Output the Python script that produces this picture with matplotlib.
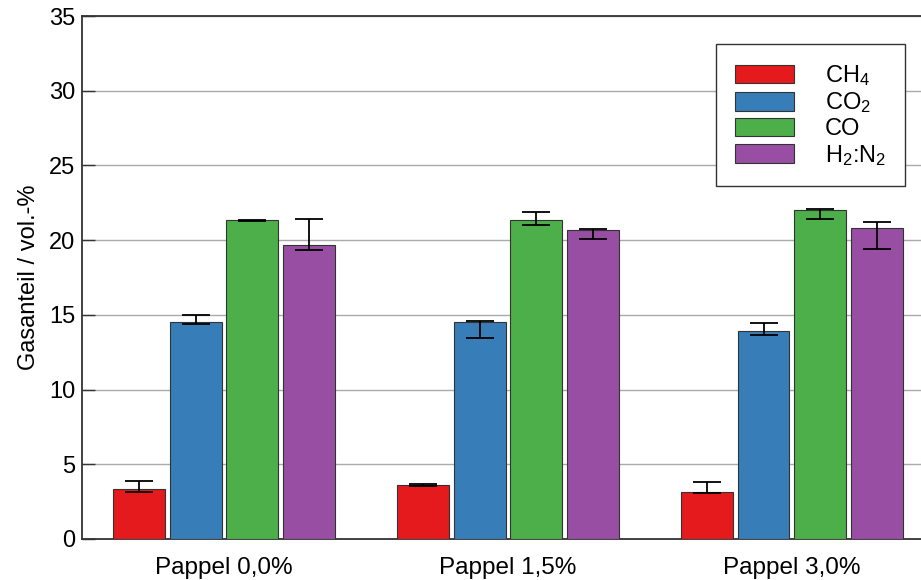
import numpy as np
import matplotlib.pyplot as plt

plt.rcParams['font.family'] = ['Liberation Sans', 'DejaVu Sans']
plt.rcParams['mathtext.fontset'] = 'custom'
plt.rcParams['mathtext.rm'] = 'Liberation Sans'
plt.rcParams['mathtext.it'] = 'Liberation Sans'

# data (vol.-%)
gruppen = ['Pappel 0,0%', 'Pappel 1,5%', 'Pappel 3,0%']
gase = ['CH$_4$', 'CO$_2$', 'CO', 'H$_2$:N$_2$']
farben = ['#E41A1C', '#377EB8', '#4DAF4A', '#984EA3']

ch4 = [3.35, 3.64, 3.17]
co2 = [14.49, 14.55, 13.93]
co = [21.32, 21.32, 21.99]
h2n2 = [19.69, 20.68, 20.78]

# asymmetric error bars: upper / lower end
ch4_max = [3.88, 3.70, 3.80]
ch4_min = [3.13, 3.55, 3.06]
co2_max = [15.00, 14.62, 14.47]
co2_min = [14.38, 13.48, 13.62]
co_max = [21.37, 21.90, 22.08]
co_min = [21.30, 21.01, 21.41]
h2n2_max = [21.39, 20.74, 21.21]
h2n2_min = [19.34, 20.09, 19.44]

werte = [ch4, co2, co, h2n2]
oben = [ch4_max, co2_max, co_max, h2n2_max]
unten = [ch4_min, co2_min, co_min, h2n2_min]

fig = plt.figure(figsize=(9.21, 5.80), dpi=100)
ax = fig.add_axes([0.0890, 0.0707, 0.925, 0.9017])

x = np.arange(len(gruppen))
breite = 0.183
versatz = [-0.3, -0.1, 0.1, 0.3]

for i in range(4):
    v = np.array(werte[i])
    err = [v - np.array(unten[i]), np.array(oben[i]) - v]
    ax.bar(x + versatz[i], v, breite, color=farben[i], edgecolor='#333333',
           linewidth=0.8, label=gase[i], zorder=3)
    ax.errorbar(x + versatz[i], v, yerr=err, fmt='none', ecolor='black',
                elinewidth=1.3, capsize=10, capthick=1.3, zorder=4)

ax.set_xlim(-0.5, 2.5)
ax.set_ylim(0, 35)
ax.set_yticks(np.arange(0, 36, 5))
ax.set_xticks(x)
ax.set_xticklabels(gruppen)
ax.set_ylabel('Gasanteil / vol.-%', fontsize=17, labelpad=6)

ax.yaxis.grid(True, color='#aaaaaa', linewidth=1.0, zorder=0)
ax.set_axisbelow(True)
ax.tick_params(axis='y', direction='in', length=9, width=1.0, right=True,
               labelsize=17, pad=5, color='#333333')
ax.tick_params(axis='x', length=0, labelsize=17.5, pad=13)
for s in ax.spines.values():
    s.set_linewidth(1.3)
    s.set_color('#333333')

leg = ax.legend(loc='upper right', bbox_to_anchor=(0.966, 0.946),
                borderaxespad=0, fontsize=17, handlelength=2.5,
                handleheight=0.85, handletextpad=1.3, labelspacing=0.1,
                borderpad=0.8, fancybox=False, framealpha=1,
                edgecolor='#333333')
leg.get_frame().set_linewidth(1.0)

plt.savefig('out.png', dpi=100)
